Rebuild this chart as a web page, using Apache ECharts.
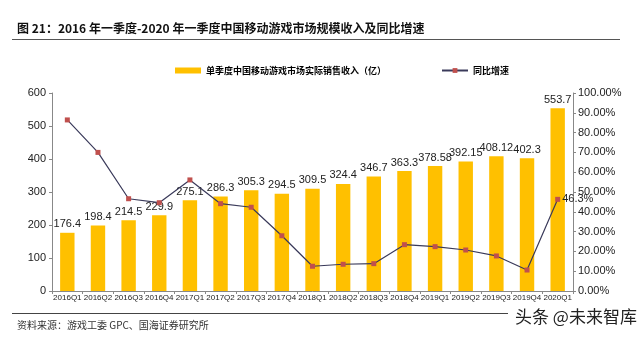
<!DOCTYPE html>
<html><head><meta charset="utf-8">
<script src="https://cdn.jsdelivr.net/npm/echarts@6/dist/echarts.min.js"></script>
<style>html,body{margin:0;padding:0;background:#fff}#c{width:640px;height:339px}</style>
</head><body><div id="c"></div>
<script>
const categories = ['2016Q1','2016Q2','2016Q3','2016Q4','2017Q1','2017Q2','2017Q3','2017Q4','2018Q1','2018Q2','2018Q3','2018Q4','2019Q1','2019Q2','2019Q3','2019Q4','2020Q1'];
const revenue = [176.4,198.4,214.5,229.9,275.1,286.3,305.3,294.5,309.5,324.4,346.7,363.3,378.58,392.15,408.12,402.3,553.7];
const growth = [86.4,70.0,46.6,44.6,56.1,44.1,42.3,27.9,12.5,13.5,13.8,23.4,22.4,20.7,17.7,10.6,46.3];
const seriesNames = ['单季度中国移动游戏市场实际销售收入（亿）','同比增速'];
const titleText = '图 21：2016 年一季度-2020 年一季度中国移动游戏市场规模收入及同比增速';
const sourceText = '资料来源：游戏工委 GPC、国海证券研究所';
const watermark = '头条 @未来智库';

const chart = echarts.init(document.getElementById('c'));
const F = '"Noto Sans CJK SC", "Liberation Sans", sans-serif';
chart.setOption({
  animation: false,
  textStyle: { fontFamily: F },
  grid: { left: 52, right: 67, top: 93, bottom: 48 },
  legend: {
    top: 61, left: 170, itemGap: 55,
    textStyle: { fontSize: 9, fontWeight: 'bold', color: '#000', fontFamily: F },
    data: [
      { name: seriesNames[0], icon: 'rect', itemStyle: { color: '#FFC000' } },
      { name: seriesNames[1] }
    ],
    itemWidth: 26, itemHeight: 6
  },
  xAxis: {
    type: 'category', data: categories,
    axisLine: { lineStyle: { color: '#888' } },
    axisTick: { show: true, length: 3, lineStyle: { color: '#888' } },
    axisLabel: { fontSize: 8, color: '#222', margin: 3, interval: 0, fontFamily: 'Liberation Sans' }
  },
  yAxis: [
    { type: 'value', min: 0, max: 600, interval: 100,
      axisLine: { show: true, lineStyle: { color: '#888' } },
      axisTick: { show: true, length: 3, lineStyle: { color: '#888' } },
      splitLine: { show: false },
      axisLabel: { fontSize: 11, color: '#222', margin: 6, fontFamily: 'Liberation Sans' } },
    { type: 'value', min: 0, max: 100, interval: 10, position: 'right',
      axisLine: { show: true, lineStyle: { color: '#888' } },
      axisTick: { show: true, length: 3, lineStyle: { color: '#888' } },
      splitLine: { show: false },
      axisLabel: { fontSize: 11, color: '#222', margin: 5, fontFamily: 'Liberation Sans',
        formatter: v => v.toFixed(2) + '%' } }
  ],
  series: [
    { name: seriesNames[0], type: 'bar', data: revenue, barWidth: '47%',
      itemStyle: { color: '#FFC000' },
      label: { show: true, position: 'top', fontSize: 11, color: '#222', distance: 3, fontFamily: 'Liberation Sans' } },
    { name: seriesNames[1], type: 'line', yAxisIndex: 1, data: growth,
      symbol: 'rect', symbolSize: 5,
      lineStyle: { color: '#3A3A5A', width: 1.2 },
      itemStyle: { color: '#C0504D' },
      label: { show: true, position: 'right', fontSize: 11, color: '#222', distance: 2, fontFamily: 'Liberation Sans',
        formatter: p => p.dataIndex === growth.length - 1 ? p.value.toFixed(1) + '%' : '' } }
  ],
  graphic: [
    { type: 'text', left: 17, top: 22, style: { text: titleText, fill: '#111', font: 'bold 12px ' + F } },
    { type: 'rect', shape: { x: 12, y: 39, width: 608, height: 1 }, style: { fill: '#555' } },
    { type: 'rect', shape: { x: 12, y: 313, width: 496, height: 1 }, style: { fill: '#444' } },
    { type: 'text', left: 17, top: 320, style: { text: sourceText, font: '10px ' + F, fill: '#333' } },
    { type: 'text', left: 515, top: 308, style: { text: watermark, font: '17px ' + F, fill: '#222' } }
  ]
});
</script></body></html>
